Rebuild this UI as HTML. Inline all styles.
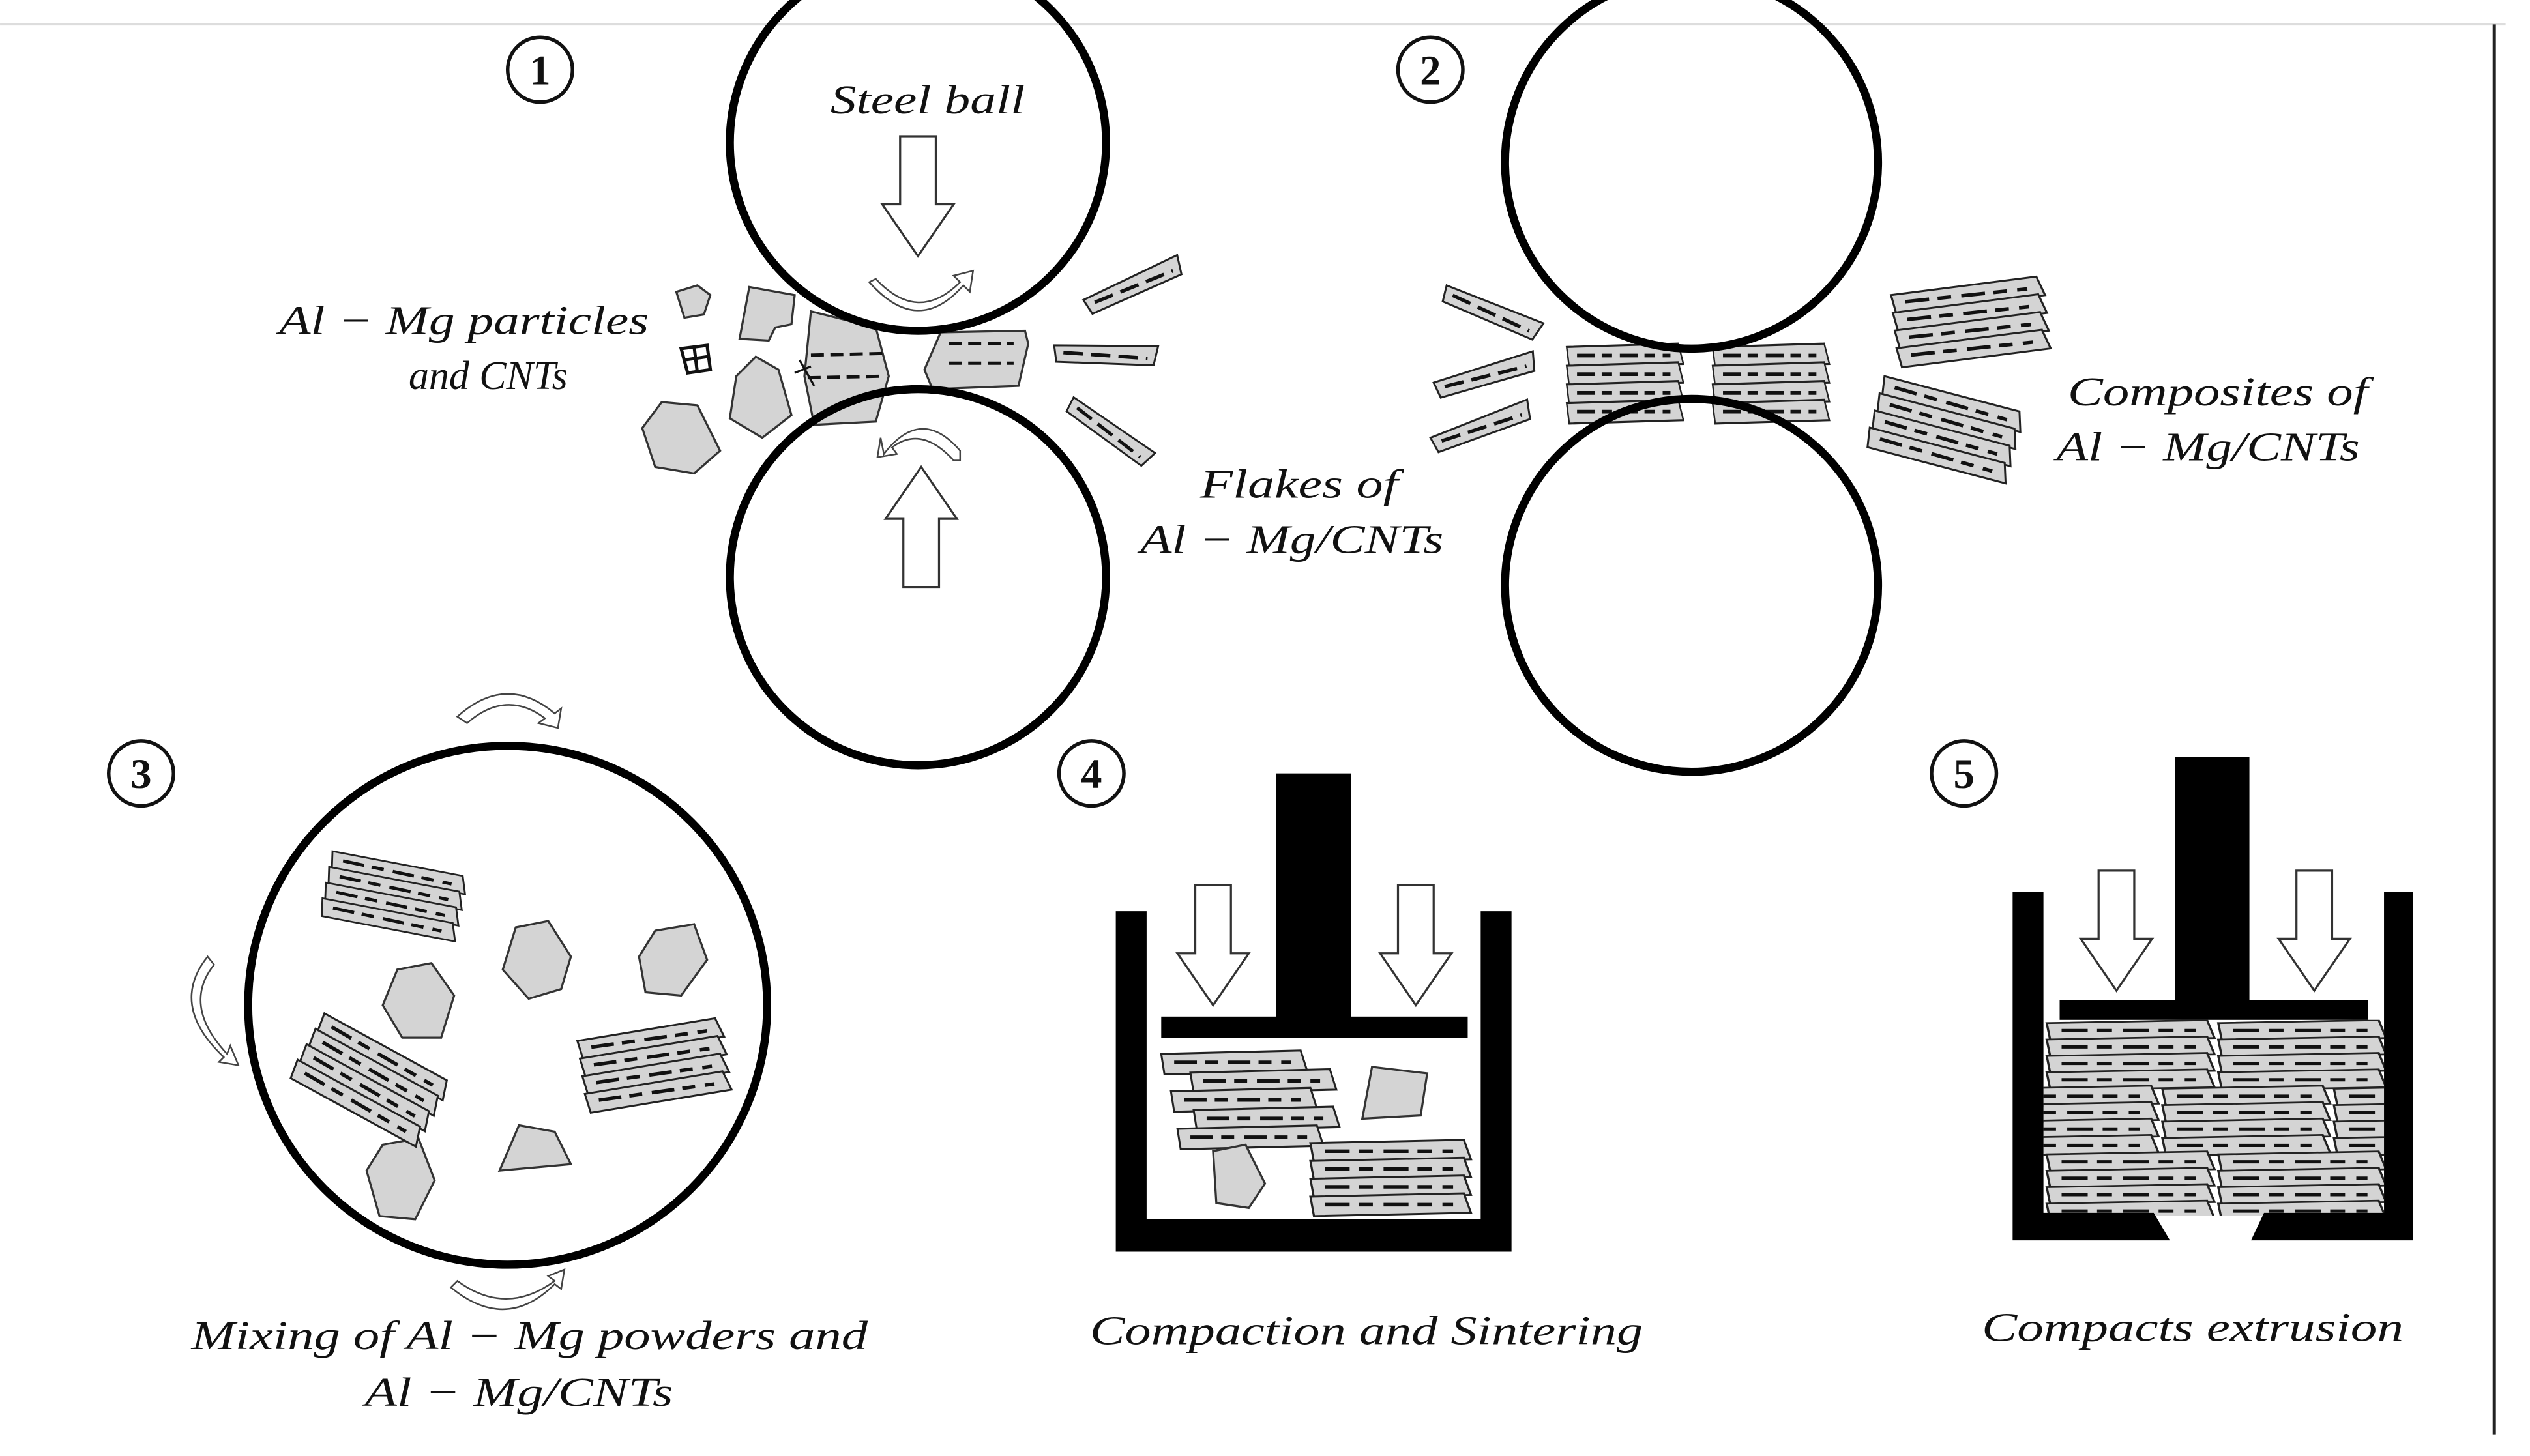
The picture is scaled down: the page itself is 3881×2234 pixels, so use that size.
<!DOCTYPE html>
<html><head><meta charset="utf-8"><style>
html,body{margin:0;padding:0;background:#fff}
svg{display:block}
text{font-family:"Liberation Serif",serif;font-style:italic;fill:#111}
</style></head><body>
<svg width="3881" height="2234" viewBox="0 0 1560 898" xmlns="http://www.w3.org/2000/svg">
<defs>
<g id="L"><path d="M0 0 L86 -2 L90 10 L2 12 Z" fill="#d4d4d4" stroke="#222" stroke-width="1.2"/><path d="M8 5 H80" stroke="#111" stroke-width="2.2" stroke-dasharray="14 5 8 6"/></g>
<g id="C"><use href="#L"/><use href="#L" y="11"/><use href="#L" y="22"/><use href="#L" y="33"/></g>
<g id="S"><path d="M0 0 L64 -4 L62 8 L2 10 Z" fill="#d4d4d4" stroke="#222" stroke-width="1.2"/><path d="M6 4 H58" stroke="#111" stroke-width="2.2" stroke-dasharray="12 5"/></g>
<g id="DA"><path d="M-11 0 H11 V42 H22 L0 74 L-22 42 H-11 Z" fill="#fff" stroke="#333" stroke-width="1.3"/></g>
<clipPath id="cp5"><rect x="1260" y="629" width="210" height="121"/></clipPath>
</defs>
<rect width="1560" height="898" fill="#fff"/>
<line x1="0" y1="15" x2="1545" y2="15" stroke="#ddd" stroke-width="1.5"/>
<line x1="1538" y1="15" x2="1538" y2="885" stroke="#222" stroke-width="2"/>

<g fill="#fff" stroke="#111" stroke-width="2.2">
<circle cx="333" cy="43" r="20"/><circle cx="882" cy="43" r="20"/><circle cx="87" cy="477" r="20"/><circle cx="673" cy="477" r="20"/><circle cx="1211" cy="477" r="20"/></g>
<g font-size="26" text-anchor="middle">
<text x="333" y="52" style="font-style:normal;font-weight:bold">1</text><text x="882" y="52" style="font-style:normal;font-weight:bold">2</text><text x="87" y="486" style="font-style:normal;font-weight:bold">3</text><text x="673" y="486" style="font-style:normal;font-weight:bold">4</text><text x="1211" y="486" style="font-style:normal;font-weight:bold">5</text></g>

<!-- stage 1 -->
<g fill="#d4d4d4" stroke="#333" stroke-width="1.3">
<path d="M417 180 L430 176 L438 182 L434 194 L422 196 Z"/>
<path d="M462 177 L490 182 L488 200 L478 202 L474 210 L456 209 Z"/>
<path d="M466 220 L480 228 L488 256 L470 270 L450 258 L454 232 Z"/>
<path d="M408 248 L430 250 L444 278 L428 292 L404 288 L396 264 Z"/>
<path d="M500 192 L540 202 L548 232 L540 260 L502 262 L496 232 Z"/>
<path d="M580 205 L632 204 L634 212 L628 238 L575 240 L570 228 Z"/>
</g>
<path d="M500 219 L545 218 M498 233 L545 232 M585 212 L625 212 M585 224 L625 224" stroke="#111" stroke-width="2" stroke-dasharray="8 4"/>
<path d="M420 215 L436 213 L438 228 L424 230 Z M422 222 L436 220 M428 214 L430 230" fill="none" stroke="#111" stroke-width="2"/>
<path d="M493 222 L502 238 M490 230 L500 226" stroke="#111" stroke-width="1.3"/>
<circle cx="566" cy="88" r="116" fill="none" stroke="#000" stroke-width="5"/>
<circle cx="566" cy="356" r="116" fill="none" stroke="#000" stroke-width="5"/>
<use href="#DA" transform="translate(566 84)"/>
<use href="#DA" transform="translate(568 362) rotate(180)"/>
<path d="M540 172 Q566 200 592 174 l-4 -4 l12 -3 l-2 13 l-4 -4 Q566 208 536 174 Z" fill="#fff" stroke="#444" stroke-width="1"/>
<path d="M545 280 Q568 250 592 278 l0 6 l-4 0 Q568 262 550 276 l3 4 l-12 2 l2 -12 Z" fill="#fff" stroke="#444" stroke-width="1"/>
<use href="#S" transform="translate(668 185) rotate(-22)"/>
<use href="#S" transform="translate(650 213) rotate(4)"/>
<use href="#S" transform="translate(662 245) rotate(38) scale(0.95)"/>
<text x="512" y="70" font-size="25" textLength="120" lengthAdjust="spacingAndGlyphs">Steel ball</text>
<text x="172" y="206" font-size="25" textLength="228" lengthAdjust="spacingAndGlyphs">Al − Mg particles</text>
<text x="252" y="240" font-size="25" textLength="98" lengthAdjust="spacingAndGlyphs">and CNTs</text>
<text x="740" y="307" font-size="25" textLength="122" lengthAdjust="spacingAndGlyphs">Flakes of</text>
<text x="703" y="341" font-size="25" textLength="187" lengthAdjust="spacingAndGlyphs">Al − Mg/CNTs</text>

<!-- stage 2 -->
<use href="#S" transform="translate(892 176) rotate(25)"/>
<use href="#S" transform="translate(884 236) rotate(-14)"/>
<use href="#S" transform="translate(882 270) rotate(-18)"/>
<g transform="translate(966 214) scale(0.8 1.05)"><use href="#C"/></g>
<g transform="translate(1056 214) scale(0.8 1.05)"><use href="#C"/></g>
<g transform="translate(1166 182) rotate(-6) scale(1.05 1)"><use href="#C"/></g>
<g transform="translate(1162 232) rotate(16)"><use href="#C"/></g>
<circle cx="1043" cy="100" r="115" fill="none" stroke="#000" stroke-width="5"/>
<circle cx="1043" cy="361" r="115" fill="none" stroke="#000" stroke-width="5"/>
<text x="1275" y="250" font-size="25" textLength="185" lengthAdjust="spacingAndGlyphs">Composites of</text>
<text x="1268" y="284" font-size="25" textLength="187" lengthAdjust="spacingAndGlyphs">Al − Mg/CNTs</text>

<!-- stage 3 -->
<circle cx="313" cy="620" r="160" fill="none" stroke="#000" stroke-width="5"/>
<g fill="#d4d4d4" stroke="#333" stroke-width="1.3">
<path d="M318 572 L338 568 L352 590 L346 610 L326 616 L310 598 Z"/>
<path d="M404 574 L428 570 L436 592 L420 614 L398 612 L394 590 Z"/>
<path d="M245 598 L266 594 L280 614 L272 640 L248 640 L236 620 Z"/>
<path d="M236 706 L258 702 L268 728 L256 752 L234 750 L226 722 Z"/>
<path d="M320 694 L342 698 L352 718 L308 722 Z"/>
</g>
<g transform="translate(205 525) rotate(12) scale(0.95 0.9)"><use href="#C"/></g>
<g transform="translate(200 625) rotate(30)"><use href="#C"/></g>
<g transform="translate(356 642) rotate(-8)"><use href="#C"/></g>
<path d="M282 442 Q312 415 342 440 l4 -3 l-2 12 l-12 -3 l4 -3 Q312 425 288 446 Z" fill="#fff" stroke="#444" stroke-width="1"/>
<path d="M132 595 Q112 620 140 650 l2 -5 l5 12 l-12 -2 l3 -3 Q104 620 128 590 Z" fill="#fff" stroke="#444" stroke-width="1"/>
<path d="M282 790 Q312 812 342 790 l-4 -3 l10 -4 l-2 12 l-4 -3 Q312 822 278 794 Z" fill="#fff" stroke="#444" stroke-width="1"/>
<text x="118" y="832" font-size="25" textLength="417" lengthAdjust="spacingAndGlyphs">Mixing of Al − Mg powders and</text>
<text x="225" y="867" font-size="25" textLength="190" lengthAdjust="spacingAndGlyphs">Al − Mg/CNTs</text>

<!-- stage 4 -->
<path d="M688 562 H707 V752 H913 V562 H932 V772 H688 Z" fill="#000"/>
<rect x="787" y="477" width="46" height="152" fill="#000"/>
<rect x="716" y="627" width="189" height="13" fill="#000"/>
<use href="#DA" transform="translate(748 546)"/>
<use href="#DA" transform="translate(873 546)"/>
<g transform="translate(716 650) scale(1 1.05)"><use href="#L"/><use href="#L" x="18" y="11"/><use href="#L" x="6" y="22"/><use href="#L" x="20" y="33"/><use href="#L" x="10" y="44"/></g>
<path d="M748 710 L768 706 L780 730 L770 745 L750 742 Z" fill="#d4d4d4" stroke="#333" stroke-width="1.3"/>
<path d="M846 658 L880 662 L876 688 L840 690 Z" fill="#d4d4d4" stroke="#333" stroke-width="1.3"/>
<g transform="translate(808 705) scale(1.1 1)"><use href="#C"/></g>
<text x="672" y="829" font-size="25" textLength="341" lengthAdjust="spacingAndGlyphs">Compaction and Sintering</text>

<!-- stage 5 -->
<g clip-path="url(#cp5)">
<g transform="translate(1262 631) scale(1.15 0.92)">
<use href="#C"/><use href="#C" x="92"/><use href="#C" x="-30" y="44"/><use href="#C" x="62" y="44"/><use href="#C" x="154" y="44"/><use href="#C" y="88"/><use href="#C" x="92" y="88"/>
</g></g>
<path d="M1241 550 H1260 V748 H1328 L1338 765 H1241 Z" fill="#000"/>
<path d="M1470 550 H1488 V765 H1388 L1396 748 H1470 Z" fill="#000"/>
<rect x="1341" y="467" width="46" height="152" fill="#000"/>
<rect x="1270" y="617" width="190" height="12" fill="#000"/>
<use href="#DA" transform="translate(1305 537)"/>
<use href="#DA" transform="translate(1427 537)"/>
<text x="1222" y="827" font-size="25" textLength="260" lengthAdjust="spacingAndGlyphs">Compacts extrusion</text>
</svg>
</body></html>
